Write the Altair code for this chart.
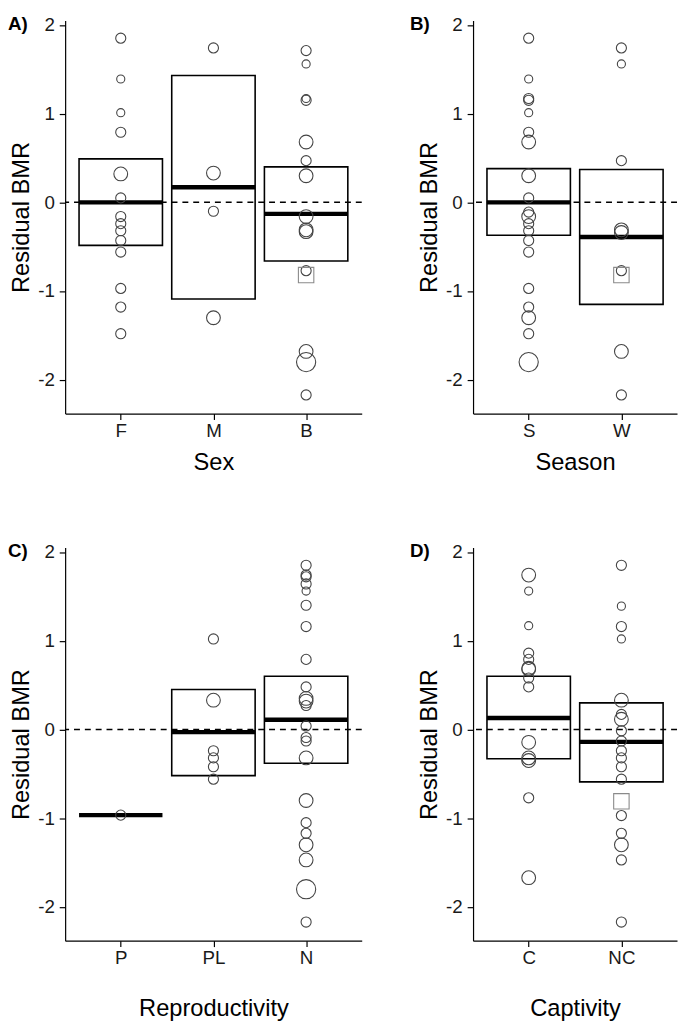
import altair as alt
import pandas as pd

FONT = "Liberation Sans"

# ---------------- Panel A: Sex ----------------
sex_cats = ["F", "M", "B"]
sex_vals = [
    [1.85, 1.39, 1.01, 0.79, 0.32, 0.05, -0.16, -0.24, -0.32, -0.43, -0.56, -0.97, -1.18, -1.48],
    [1.74, 0.33, -0.10, -1.30],
    [1.71, 1.56, 1.17, 1.15, 0.68, 0.47, 0.30, -0.16, -0.31, -0.33, -0.77, -1.68, -1.80, -2.17],
]
# size class of every circle: 1 small, 2 medium, 3 large, 4 largest
sex_sizes = [
    [2, 1, 1, 2, 3, 2, 2, 2, 2, 2, 2, 2, 2, 2],
    [2, 3, 2, 3],
    [2, 1, 1, 2, 3, 2, 3, 3, 3, 3, 2, 3, 4, 2],
]
sex_squares = [[], [], [-0.82]]
sex_lo = [-0.485, -1.09, -0.66]
sex_med = [0.0, 0.17, -0.13]
sex_hi = [0.49, 1.43, 0.40]

# ---------------- Panel B: Season ----------------
season_cats = ["S", "W"]
season_vals = [
    [1.85, 1.39, 1.17, 1.15, 1.01, 0.79, 0.68, 0.30, 0.05, -0.11, -0.16, -0.24, -0.32, -0.43,
     -0.56, -0.97, -1.18, -1.30, -1.48, -1.80],
    [1.74, 1.56, 0.47, -0.31, -0.34, -0.77, -1.68, -2.17],
]
season_sizes = [
    [2, 1, 2, 2, 1, 2, 3, 3, 2, 2, 3, 2, 2, 2, 2, 2, 2, 3, 2, 4],
    [2, 1, 2, 3, 3, 2, 3, 2],
]
season_squares = [[], [-0.82]]
season_lo = [-0.37, -1.15]
season_med = [0.0, -0.39]
season_hi = [0.38, 0.37]

# ---------------- Panel C: Reproductivity ----------------
repro_cats = ["P", "PL", "N"]
repro_vals = [
    [-0.965],
    [1.02, 0.33, -0.24, -0.32, -0.42, -0.56],
    [1.85, 1.74, 1.72, 1.64, 1.56, 1.40, 1.16, 0.79, 0.48, 0.35, 0.32, 0.27, 0.04, -0.09,
     -0.13, -0.32, -0.80, -1.05, -1.17, -1.30, -1.47, -1.80, -2.17],
]
repro_sizes = [
    [2],
    [2, 3, 2, 2, 2, 2],
    [2, 2, 2, 2, 1, 2, 2, 2, 2, 3, 3, 2, 2, 2, 2, 3, 3, 2, 2, 3, 3, 4, 2],
]
repro_squares = [[], [], []]
repro_lo = [None, -0.52, -0.38]
repro_med = [-0.965, -0.03, 0.11]
repro_hi = [None, 0.45, 0.60]

# ---------------- Panel D: Captivity ----------------
capt_cats = ["C", "NC"]
capt_vals = [
    [1.74, 1.56, 1.17, 0.86, 0.79, 0.69, 0.68, 0.58, 0.48, -0.145, -0.32, -0.35, -0.77, -1.67],
    [1.85, 1.39, 1.16, 1.02, 0.33, 0.17, 0.115, -0.015, -0.13, -0.24, -0.32, -0.42, -0.56,
     -0.97, -1.17, -1.30, -1.47, -2.17],
]
capt_sizes = [
    [3, 1, 1, 2, 2, 3, 3, 2, 2, 3, 3, 3, 2, 3],
    [2, 1, 2, 1, 3, 2, 3, 2, 2, 2, 2, 2, 2, 2, 2, 3, 2, 2],
]
capt_squares = [[], [-0.81]]
capt_lo = [-0.33, -0.59]
capt_med = [0.13, -0.14]
capt_hi = [0.60, 0.30]

Y_DOMAIN = [-2.38, 2.05]
PLOT_H = 399
STEP = 94


def panel(label, label_dx, cats, vals, sizes, squares, lo, med, hi, xtitle, title_pad):
    n = len(cats)
    rows = []
    for i, (vs, ss) in enumerate(zip(vals, sizes)):
        for v, s in zip(vs, ss):
            rows.append({"idx": i + 1, "val": v, "sz": s, "shape": "circle"})
    for i, q in enumerate(squares):
        for v in q:
            rows.append({"idx": i + 1, "val": v, "sz": 5, "shape": "square"})
    pts = pd.DataFrame(rows)
    boxes = pd.DataFrame({"idx": list(range(1, n + 1)), "lo": lo, "med": med, "hi": hi})

    xs = alt.Scale(domain=[0.4, n + 0.6], nice=False, zero=False)
    ys = alt.Scale(domain=Y_DOMAIN, nice=False, zero=False)

    expr = f"'{cats[-1]}'"
    for i in reversed(range(n - 1)):
        expr = f"round(datum.value) == {i + 1} ? '{cats[i]}' : " + expr

    xaxis = alt.Axis(
        values=list(range(1, n + 1)),
        labelExpr=expr,
        title=xtitle,
        titlePadding=title_pad,
        labelPadding=2,
    )
    yaxis = alt.Axis(
        values=[-2, -1, 0, 1, 2],
        labelExpr="'' + datum.value",
        title="Residual BMR",
        titlePadding=4,
        labelPadding=5,
    )

    base_box = alt.Chart(boxes).transform_calculate(
        xl="datum.idx - 0.45", xr="datum.idx + 0.45"
    )
    rects = base_box.transform_filter("isValid(datum.lo)").mark_rect(
        fillOpacity=0, stroke="black", strokeWidth=1.6
    ).encode(
        x=alt.X("xl:Q", scale=xs, axis=xaxis),
        x2="xr:Q",
        y=alt.Y("lo:Q", scale=ys, axis=yaxis),
        y2="hi:Q",
    )
    zero = alt.Chart(pd.DataFrame({"z": [0]})).mark_rule(
        strokeDash=[6, 5], strokeWidth=1.5, color="black"
    ).encode(y=alt.Y("z:Q", scale=ys, axis=yaxis))
    meds = base_box.mark_rule(strokeWidth=4.5, color="black").encode(
        x=alt.X("xl:Q", scale=xs, axis=xaxis),
        x2="xr:Q",
        y=alt.Y("med:Q", scale=ys, axis=yaxis),
    )
    points = alt.Chart(pts).mark_point(filled=False, strokeWidth=1.1, opacity=1).encode(
        x=alt.X("idx:Q", scale=xs, axis=xaxis),
        y=alt.Y("val:Q", scale=ys, axis=yaxis),
        shape=alt.Shape(
            "shape:N",
            scale=alt.Scale(domain=["circle", "square"], range=["circle", "square"]),
            legend=None,
        ),
        stroke=alt.Stroke(
            "shape:N",
            scale=alt.Scale(domain=["circle", "square"], range=["#444444", "#8a8a8a"]),
            legend=None,
        ),
        size=alt.Size(
            "sz:Q",
            scale=alt.Scale(type="threshold", domain=[1.5, 2.5, 3.5, 4.5],
                            range=[68, 105, 195, 380, 245]),
            legend=None,
        ),
    )
    lab = alt.Chart(pd.DataFrame({"t": [label]})).mark_text(
        align="left", baseline="top", fontSize=19, fontWeight="bold", font=FONT, color="black"
    ).encode(text="t:N", x=alt.value(label_dx), y=alt.value(-5))

    width = round((n + 0.2) * STEP)
    return alt.layer(rects, zero, meds, points, lab).properties(width=width, height=PLOT_H)


pA = panel("A)", -58, sex_cats, sex_vals, sex_sizes, sex_squares, sex_lo, sex_med, sex_hi, "Sex", 11)
pB = panel("B)", -64, season_cats, season_vals, season_sizes, season_squares,
           season_lo, season_med, season_hi, "Season", 11)
pC = panel("C)", -58, repro_cats, repro_vals, repro_sizes, repro_squares,
           repro_lo, repro_med, repro_hi, "Reproductivity", 30)
pD = panel("D)", -64, capt_cats, capt_vals, capt_sizes, capt_squares,
           capt_lo, capt_med, capt_hi, "Captivity", 30)

chart = alt.vconcat(
    alt.hconcat(pA, pB, spacing=48),
    alt.hconcat(pC, pD, spacing=48),
    spacing=69,
).properties(
    padding={"left": 0, "top": 0, "right": 0, "bottom": 0}
).configure(
    font=FONT
).configure_view(
    strokeOpacity=0
).configure_axis(
    grid=False,
    domainColor="black",
    domainWidth=1.2,
    tickColor="black",
    tickWidth=1.2,
    tickSize=6,
    labelColor="#1a1a1a",
    labelFontSize=19,
    labelFont=FONT,
    titleColor="black",
    titleFontSize=24,
    titleFontWeight="normal",
    titleFont=FONT,
)

chart.save("out.html", embed_options={"renderer": "svg", "actions": False})
